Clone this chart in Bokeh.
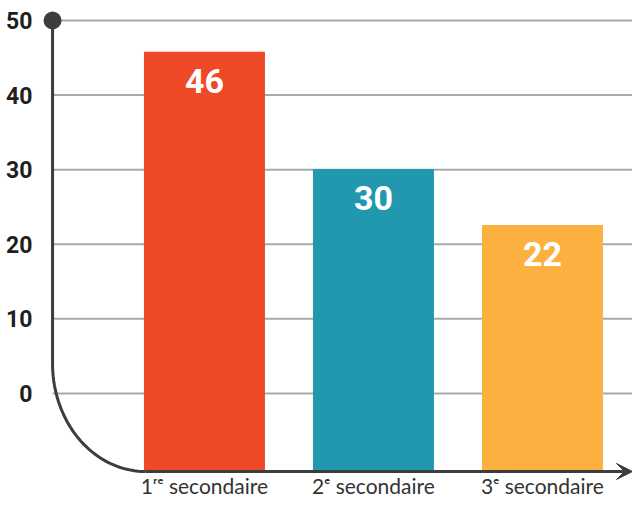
import numpy as np
from bokeh.plotting import figure
from bokeh.models import Range1d, Arrow, VeeHead
from bokeh.core.properties import value
from bokeh.embed import file_html
from bokeh.resources import INLINE

# ---- data ----
categories = ["1ʳᵉ secondaire", "2ᵉ secondaire", "3ᵉ secondaire"]
bar_values = [45.8, 30.1, 22.6]
value_labels = ["46", "30", "22"]
bar_colors = ["#EF4A28", "#2198AE", "#FBB040"]
y_ticks = [0, 10, 20, 30, 40, 50]
y_tick_labels = ["0", "10", "20", "30", "40", "50"]

# ---- layout constants ----
X_START, X_END = -1.207, 2.533
Y_START, Y_END = -14.08, 52.68
BASE = -10.46          # position of the horizontal (curved) axis line
AXIS_X = -0.899        # position of the vertical axis line
LABEL_X = -1.018       # right edge of the value-axis labels
CURVE_Y = 4.0          # where the vertical line starts bending
CURVE_X = -0.349       # where the bend meets the horizontal line

BOLD_FONT = "Roboto"
AXIS_COLOR = "#3d3d3d"

x = list(range(len(categories)))

p = figure(width=632, height=498, output_backend="svg", toolbar_location=None,
           x_range=Range1d(X_START, X_END), y_range=Range1d(Y_START, Y_END),
           min_border=0)
p.outline_line_color = None
p.grid.visible = False
p.axis.visible = False
p.background_fill_color = "white"

# grid lines starting at the vertical axis
n = len(y_ticks)
p.segment(x0=[AXIS_X] * n, y0=y_ticks, x1=[X_END] * n, y1=y_ticks,
          line_color="#A7A9AC", line_width=2)

# bars
p.vbar(x=x, top=bar_values, bottom=BASE, width=0.716, fill_color=bar_colors, line_color=None)

# value labels in bars
p.text(x=x, y=bar_values, text=value_labels, y_offset=29, text_align="center",
       text_baseline="middle", text_color="white", text_font=value(BOLD_FONT),
       text_font_style="bold", text_font_size="34px")

# curved axis line
t = np.linspace(0, np.pi / 2, 40)
a = CURVE_X - AXIS_X
b = CURVE_Y - BASE
xs = [AXIS_X] + list(CURVE_X - a * np.cos(t))
ys = [y_ticks[-1]] + list(CURVE_Y - b * np.sin(t))
p.line(xs, ys, line_color=AXIS_COLOR, line_width=3)
p.add_layout(Arrow(x_start=CURVE_X, y_start=BASE, x_end=X_END, y_end=BASE,
                   line_color=AXIS_COLOR, line_width=3,
                   end=VeeHead(size=16, fill_color=AXIS_COLOR, line_color=AXIS_COLOR, line_width=1)))
p.scatter([AXIS_X], [y_ticks[-1]], size=18, fill_color=AXIS_COLOR, line_color=None)

# value-axis labels
p.text(x=[LABEL_X] * n, y=y_ticks, text=y_tick_labels, text_align="right",
       text_baseline="middle", text_color="#231F20", text_font=value(BOLD_FONT),
       text_font_style="bold", text_font_size="23px")

# category labels
p.text(x=x, y=[Y_START] * len(x), text=categories, y_offset=-13, text_align="center",
       text_baseline="middle", text_color="#333333", text_font=value("Lato"),
       text_font_size="21px")

open("out.html", "w").write(file_html(p, INLINE))
